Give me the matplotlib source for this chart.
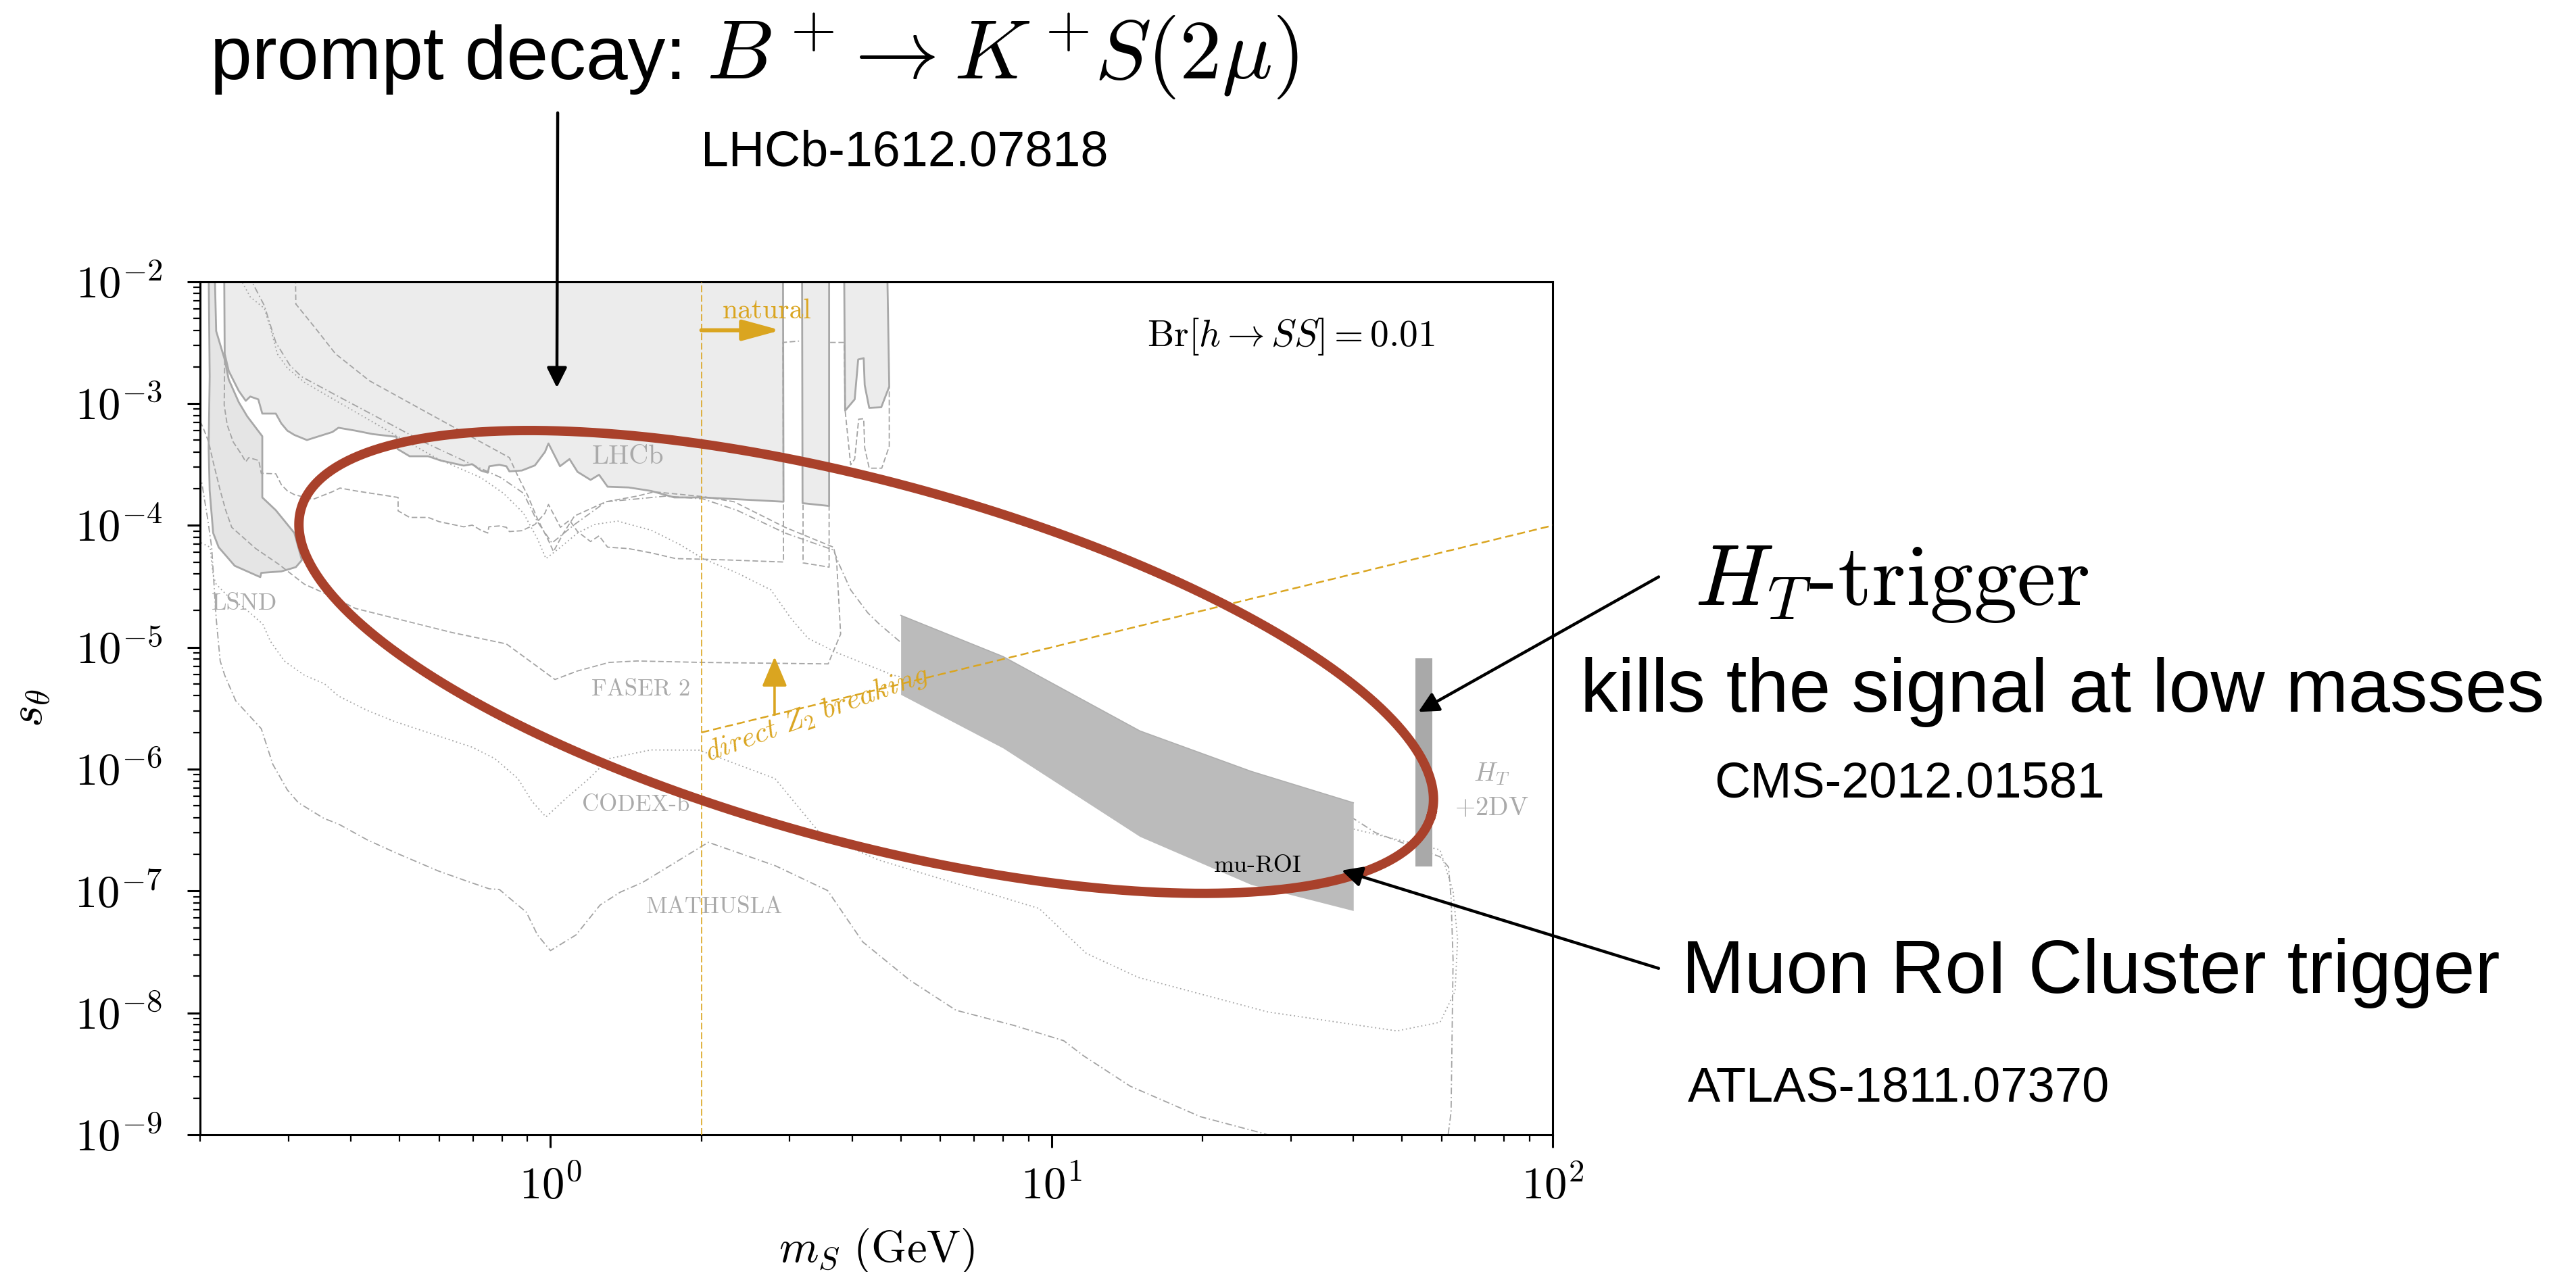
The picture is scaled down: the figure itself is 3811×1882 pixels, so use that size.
import numpy as np
import matplotlib.pyplot as plt
from matplotlib.ticker import LogLocator, FuncFormatter, NullFormatter

plt.rcParams['mathtext.fontset'] = 'cm'
plt.rcParams['font.family'] = ['Liberation Sans', 'DejaVu Sans']

# curves are given as log10(m_S / GeV) and log10(s_theta)
# (values of -1.9 sit just above the frame and close the shaded shapes)

# LHCb B -> K mu mu exclusion, solid and shaded
lhcb_lm = [-0.651, -0.650, -0.642, -0.622, -0.608, -0.599, -0.583, -0.575, -0.548, -0.537,
           -0.525, -0.511, -0.486, -0.435, -0.423, -0.389, -0.355, -0.307, -0.305, -0.281,
           -0.244, -0.219, -0.173, -0.156, -0.139, -0.125, -0.122, -0.102, -0.088, -0.082,
           -0.057, -0.031, -0.011, -0.004, 0.019, 0.038, 0.054, 0.080, 0.097, 0.114,
           0.156, 0.201, 0.247, 0.304, 0.360, 0.465, 0.464]
lhcb_ls = [-1.9, -2.592, -2.732, -2.895, -2.977, -2.942, -2.965, -3.082, -3.082, -3.163,
           -3.222, -3.257, -3.299, -3.233, -3.198, -3.222, -3.250, -3.273, -3.373, -3.432,
           -3.432, -3.467, -3.509, -3.497, -3.549, -3.567, -3.514, -3.502, -3.514, -3.556,
           -3.549, -3.507, -3.397, -3.327, -3.514, -3.455, -3.560, -3.626, -3.584, -3.682,
           -3.688, -3.717, -3.770, -3.770, -3.782, -3.805, -1.9]
strip2_lm = [0.502, 0.503, 0.556, 0.556]
strip2_ls = [-1.9, -3.817, -3.840, -1.9]
strip3_lm = [0.586, 0.588, 0.607, 0.614, 0.625, 0.627, 0.636, 0.660, 0.676, 0.672]
strip3_ls = [-1.9, -3.058, -2.965, -2.638, -2.627, -2.848, -3.035, -3.030, -2.860, -1.9]

# LSND exclusion
lsnd_lm = [-0.682, -0.680, -0.682, -0.680, -0.673, -0.662, -0.630, -0.579, -0.577, -0.537, -0.508,
           -0.496, -0.511, -0.548, -0.575, -0.575, -0.605, -0.622, -0.642, -0.650, -0.667, -0.670]
lsnd_ls = [-1.9, -2.778, -3.362, -3.712, -4.062, -4.179, -4.331, -4.424, -4.389, -4.377, -4.342,
           -4.284, -4.062, -3.875, -3.770, -3.268, -3.105, -2.988, -2.802, -2.638, -2.405, -1.9]

# LHCb projection (dashed), pieces split by nan
lhcbp_lm = [-0.650, -0.651, -0.645, -0.633, -0.616, -0.608, -0.602, -0.582, -0.577, -0.548,
            -0.537, -0.525, -0.511, -0.474, -0.435, -0.420, -0.389, -0.304, -0.304, -0.281,
            -0.244, -0.222, -0.173, -0.156, -0.139, -0.125, -0.123, -0.102, -0.088, -0.082,
            -0.057, -0.031, -0.011, -0.004, 0.020, 0.038, 0.054, 0.080, 0.097, 0.114,
            0.156, 0.201, 0.250, 0.304, 0.360, 0.465, 0.464, 0.496, np.nan,
            0.504, 0.504, 0.556, 0.556, np.nan,
            0.558, 0.586, 0.588, 0.599, 0.607, 0.615, 0.625, 0.627, 0.636, 0.661, 0.676, 0.676]
lhcbp_ls = [-2.638, -3.012, -3.175, -3.315, -3.420, -3.478, -3.443, -3.467, -3.572, -3.576,
            -3.665, -3.716, -3.747, -3.786, -3.723, -3.693, -3.716, -3.770, -3.880, -3.934,
            -3.934, -3.969, -4.011, -3.997, -4.039, -4.062, -4.011, -4.004, -4.015, -4.050,
            -4.043, -3.992, -3.899, -3.828, -4.015, -3.957, -4.050, -4.132, -4.085, -4.178,
            -4.190, -4.225, -4.272, -4.277, -4.284, -4.300, -2.498, -2.487, np.nan,
            -3.829, -4.307, -4.342, -3.840, np.nan,
            -2.498, -2.498, -3.058, -3.502, -3.455, -3.128, -3.124, -3.362, -3.530, -3.530, -3.350, -2.860]

# FASER 2 (dashed)
faser_lm = [-0.509, -0.508, -0.469, -0.429, -0.361, -0.253, -0.139, -0.082, -0.065, -0.045,
            -0.026, -0.003, 0.006, 0.026, 0.048, 0.111, 0.173, 0.207, 0.304, 0.366,
            0.468, 0.565, 0.571, 0.579, 0.554, 0.304, 0.173, 0.117, 0.054, 0.009,
            -0.088, -0.196, -0.310, -0.389, -0.440, -0.491, -0.542, -0.588, -0.636, -0.648,
            -0.659, -0.673, -0.682, -0.693, -0.701]
faser_ls = [-1.9, -2.183, -2.381, -2.591, -2.813, -3.058, -3.315, -3.443, -3.595, -3.758,
            -3.945, -4.132, -4.214, -4.062, -3.922, -3.805, -3.759, -3.724, -3.763, -3.805,
            -4.015, -4.179, -4.296, -4.891, -5.136, -5.124, -5.112, -5.124, -5.194, -5.264,
            -4.972, -4.879, -4.762, -4.681, -4.576, -4.482, -4.319, -4.190, -4.015, -3.875,
            -3.712, -3.478, -3.315, -3.198, -3.128]

# CODEX-b (dotted)
codex_lm = [-0.622, -0.599, -0.571, -0.557, -0.545, -0.525, -0.491, -0.423, -0.310, -0.224,
            -0.139, -0.094, -0.054, -0.026, -0.009, 0.020, 0.054, 0.088, 0.134, 0.201,
            0.258, 0.304, 0.372, 0.440, 0.480, 0.514, 0.571, 0.684, 0.906, 0.983,
            1.035, 1.173, 1.405, 1.603, 1.775, 1.801, 1.810, 1.805, 1.775, 1.689,
            1.431, 1.173, 1.069, 0.975, 0.656, 0.541, 0.448, 0.297, 0.200, 0.117,
            0.077, 0.031, -0.009, -0.037, -0.065, -0.111, -0.156, -0.224, -0.310, -0.366,
            -0.423, -0.451, -0.491, -0.531, -0.559, -0.574, -0.613, -0.639, -0.667, -0.673,
            -0.679, -0.696, -0.710]
codex_ls = [-1.95, -2.125, -2.218, -2.405, -2.592, -2.708, -2.825, -2.988, -3.257, -3.455,
            -3.607, -3.735, -3.898, -4.109, -4.272, -4.179, -4.062, -3.992, -3.964, -4.039,
            -4.156, -4.272, -4.389, -4.529, -4.763, -4.926, -5.043, -5.229, -5.417, -5.615,
            -5.870, -6.181, -6.379, -6.492, -6.662, -7.002, -7.398, -7.822, -8.077, -8.148,
            -7.992, -7.709, -7.511, -7.143, -6.747, -6.542, -6.077, -5.844, -5.842, -5.913,
            -6.077, -6.240, -6.392, -6.263, -6.077, -5.913, -5.820, -5.727, -5.610, -5.517,
            -5.400, -5.299, -5.229, -5.112, -4.949, -4.809, -4.669, -4.599, -4.482, -4.412,
            -4.179, -4.144, -4.12]

# MATHUSLA (dash-dot), upper and lower edges
math_up_lm = [-0.602, -0.571, -0.548, -0.520, -0.497, -0.423, -0.338, -0.253, -0.168, -0.099,
              -0.054, -0.026, 0.003, 0.048, 0.111, 0.173, 0.230, 0.304, 0.372, 0.468,
              0.565, 0.576, 0.599, 0.633, 0.656, 0.696, 0.826, 0.906, 1.026, 1.173,
              1.405, 1.603, 1.646, 1.775, 1.792, 1.797, 1.801, 1.797, 1.788]
math_up_ls = [-1.95, -2.195, -2.498, -2.685, -2.778, -2.942, -3.128, -3.315, -3.478, -3.607,
              -3.735, -3.969, -4.144, -3.992, -3.805, -3.782, -3.759, -3.782, -3.875, -4.062,
              -4.202, -4.319, -4.529, -4.716, -4.809, -4.949, -5.136, -5.27, -5.474, -5.841,
              -6.181, -6.407, -6.521, -6.719, -6.804, -7.058, -7.568, -8.813, -9.1]
math_lo_lm = [-0.71, -0.696, -0.684, -0.676, -0.667, -0.659, -0.650, -0.628, -0.577, -0.554,
              -0.525, -0.503, -0.452, -0.423, -0.366, -0.310, -0.224, -0.168, -0.122, -0.102,
              -0.082, -0.048, -0.026, 0.000, 0.051, 0.099, 0.139, 0.184, 0.315, 0.449,
              0.553, 0.623, 0.716, 0.809, 0.925, 1.024, 1.064, 1.157, 1.297, 1.425, 1.5]
math_lo_ls = [-3.6, -3.642, -3.945, -4.179, -4.762, -5.112, -5.229, -5.439, -5.668, -5.960,
              -6.170, -6.275, -6.404, -6.450, -6.579, -6.684, -6.835, -6.917, -6.982, -6.987,
              -7.057, -7.174, -7.360, -7.489, -7.360, -7.115, -7.010, -6.929, -6.600, -6.793,
              -6.996, -7.417, -7.729, -7.978, -8.103, -8.228, -8.353, -8.602, -8.852, -8.992, -9.1]

# ATLAS muon RoI cluster band and CMS HT + 2DV bar
muroi_m = [5, 8, 15, 25, 40]
muroi_hi = [1.83e-5, 8.4e-6, 2.06e-6, 9.6e-7, 5.3e-7]
muroi_lo = [4.1e-6, 1.49e-6, 2.8e-7, 1.13e-7, 6.9e-8]
ht_m = [53.2, 57.4]
ht_s = [1.6e-7, 8.1e-6]

# naturalness lines
natural_m = 2.0
z2_m = [2, 100]
z2_s = [2e-6, 1e-4]

# highlighted ellipse (centre and half-axes in log10 units)
roi_centre = (0.630, -5.120)
roi_major = (1.128, -1.251)
roi_minor = (-0.094, -1.429)

orange = '#DAA520'
red = '#A9412B'
line_grey = '#A4A4A4'
text_grey = '#AAAAAA'


def pts(lm, ls):
    return 10.0 ** np.asarray(lm, dtype=float), 10.0 ** np.asarray(ls, dtype=float)


fig = plt.figure(figsize=(38.11, 18.82), dpi=100)
ax = fig.add_axes([0.0777, 0.1079, 0.5251, 0.6706])
ax.set_xscale('log')
ax.set_yscale('log')
ax.set_xlim(0.2, 100)
ax.set_ylim(1e-9, 1e-2)

# shaded exclusions
for lm, ls, fc in [(lsnd_lm, lsnd_ls, '#E5E5E5'), (lhcb_lm, lhcb_ls, '#ECECEC'),
                   (strip2_lm, strip2_ls, '#ECECEC'), (strip3_lm, strip3_ls, '#ECECEC')]:
    x, y = pts(lm, ls)
    ax.fill(x, y, color=fc, lw=0, zorder=1)
    ax.plot(x, y, color='#A8A8A8', lw=2.0, zorder=2)

# projections
x, y = pts(lhcbp_lm, lhcbp_ls)
ax.plot(x, y, color=line_grey, lw=1.3, ls=(0, (4.6, 2.2)), zorder=2)
x, y = pts(faser_lm, faser_ls)
ax.plot(x, y, color=line_grey, lw=1.3, ls=(0, (4.6, 2.2)), zorder=2)
x, y = pts(codex_lm, codex_ls)
ax.plot(x, y, color=line_grey, lw=1.3, ls=(0, (1, 2.2)), zorder=2)
for lm, ls in [(math_up_lm, math_up_ls), (math_lo_lm, math_lo_ls)]:
    x, y = pts(lm, ls)
    ax.plot(x, y, color=line_grey, lw=1.3, ls=(0, (5.5, 2.2, 1, 2.2)), zorder=2)

# trigger searches
ax.fill_between(muroi_m, muroi_lo, muroi_hi, color='#BBBBBB', lw=0, zorder=3)
ax.plot(muroi_m, muroi_hi, color='#AEAEAE', lw=1.2, zorder=3)
ax.fill_between(ht_m, ht_s[0], ht_s[1], color='#A9A9A9', lw=0, zorder=3)

# natural / direct Z2 breaking
ax.axvline(natural_m, color=orange, lw=1.2, ls=(0, (6, 2.5)), zorder=4)
ax.plot(z2_m, z2_s, color=orange, lw=1.8, ls=(0, (4.8, 2.4)), zorder=4)
ax.annotate('', xy=(2.88, 4.0e-3), xytext=(natural_m, 4.0e-3),
            arrowprops=dict(arrowstyle='-|>,head_length=0.55,head_width=0.15', color=orange,
                            lw=4.3, mutation_scale=62, shrinkA=0, shrinkB=0), zorder=4)
ax.annotate('', xy=(2.8, 8.35e-6), xytext=(2.8, 2.8e-6),
            arrowprops=dict(arrowstyle='-|>,head_length=0.52,head_width=0.22', color=orange,
                            lw=2.6, mutation_scale=52, shrinkA=0, shrinkB=0), zorder=4)
ax.text(2.20, 5.02e-3, 'natural', color=orange, fontsize=30, family='cmr10')
ax.text(2.07, 1.16e-6, r'$\mathit{direct}\ Z_2\ \mathit{breaking}$', color=orange, fontsize=31,
        rotation=20, rotation_mode='anchor', ha='left', va='baseline')

# experiment labels
ax.text(1.209, 3.22e-4, 'LHCb', color=text_grey, fontsize=29, family='cmr10')
ax.text(0.211, 2.03e-5, 'LSND', color=text_grey, fontsize=26, family='cmr10')
ax.text(1.209, 4.04e-6, 'FASER 2', color=text_grey, fontsize=25, family='cmr10')
ax.text(1.157, 4.56e-7, 'CODEX-b', color=text_grey, fontsize=25, family='cmr10')
ax.text(1.55, 6.56e-8, 'MATHUSLA', color=text_grey, fontsize=25, family='cmr10')
ax.text(75.6, 8.02e-7, r'$H_T$', color=text_grey, fontsize=28, ha='center')
ax.text(75.6, 4.18e-7, r'$+2\mathrm{DV}$', color=text_grey, fontsize=28, ha='center')
ax.text(21.1, 1.43e-7, 'mu-ROI', color='black', fontsize=26, family='cmr10')
ax.text(0.700, 0.925, r'$\mathrm{Br}[h\rightarrow SS]=0.01$', transform=ax.transAxes, fontsize=40)

# red ellipse
t = np.linspace(0, 2 * np.pi, 500)
ex = 10 ** (roi_centre[0] + roi_major[0] * np.cos(t) + roi_minor[0] * np.sin(t))
ey = 10 ** (roi_centre[1] + roi_major[1] * np.cos(t) + roi_minor[1] * np.sin(t))
ax.plot(ex, ey, color=red, lw=10, zorder=6)

# axes styling
fmt = FuncFormatter(lambda v, p: r'$10^{%d}$' % int(round(np.log10(v))))
for axis in (ax.xaxis, ax.yaxis):
    axis.set_major_locator(LogLocator(base=10, numticks=20))
    axis.set_minor_locator(LogLocator(base=10, subs=np.arange(2, 10), numticks=40))
    axis.set_major_formatter(fmt)
    axis.set_minor_formatter(NullFormatter())
ax.tick_params(which='major', direction='out', length=14, width=2.2, labelsize=48)
ax.tick_params(axis='y', which='major', pad=26)
ax.tick_params(axis='x', which='major', pad=20)
ax.tick_params(which='minor', direction='out', length=7, width=1.6)
for sp in ax.spines.values():
    sp.set_linewidth(2.2)
ax.set_xlabel(r'$m_S\ (\mathrm{GeV})$', fontsize=48)
ax.xaxis.set_label_coords(0.5, -0.108)
ax.set_ylabel(r'$s_\theta$', fontsize=50)
ax.yaxis.set_label_coords(-0.109, 0.5)

# slide annotations
arrow_kw = dict(arrowstyle='-|>,head_length=0.5,head_width=0.25', color='black', lw=3.2,
                mutation_scale=36, shrinkA=0, shrinkB=0)
ax.annotate('', xy=(1.03, 1.35e-3), xytext=(0.2165, 0.9113), textcoords='figure fraction',
            arrowprops=arrow_kw, annotation_clip=False, zorder=7)
ax.annotate('', xy=(53.9, 2.95e-6), xytext=(0.6439, 0.5465), textcoords='figure fraction',
            arrowprops=arrow_kw, annotation_clip=False, zorder=7)
ax.annotate('', xy=(37.9, 1.476e-7), xytext=(0.6439, 0.2387), textcoords='figure fraction',
            arrowprops=arrow_kw, annotation_clip=False, zorder=7)

fig.text(0.0816, 0.9378, 'prompt decay:', fontsize=80, va='baseline')
fig.text(0.2742, 0.9378, r'$B^+\!\rightarrow K^+\!S(2\mu)$', fontsize=90, va='baseline')
fig.text(0.2721, 0.8698, 'LHCb-1612.07818', fontsize=53, va='baseline')
fig.text(0.6578, 0.5245, r'$H_T$-trigger', fontsize=93, va='baseline', family='cmr10')
fig.text(0.6135, 0.4406, 'kills the signal at low masses', fontsize=80, va='baseline')
fig.text(0.6654, 0.3735, 'CMS-2012.01581', fontsize=53, va='baseline')
fig.text(0.6528, 0.2195, 'Muon RoI Cluster trigger', fontsize=80, va='baseline')
fig.text(0.6552, 0.1341, 'ATLAS-1811.07370', fontsize=52, va='baseline')

fig.savefig('out.png', dpi=100)
